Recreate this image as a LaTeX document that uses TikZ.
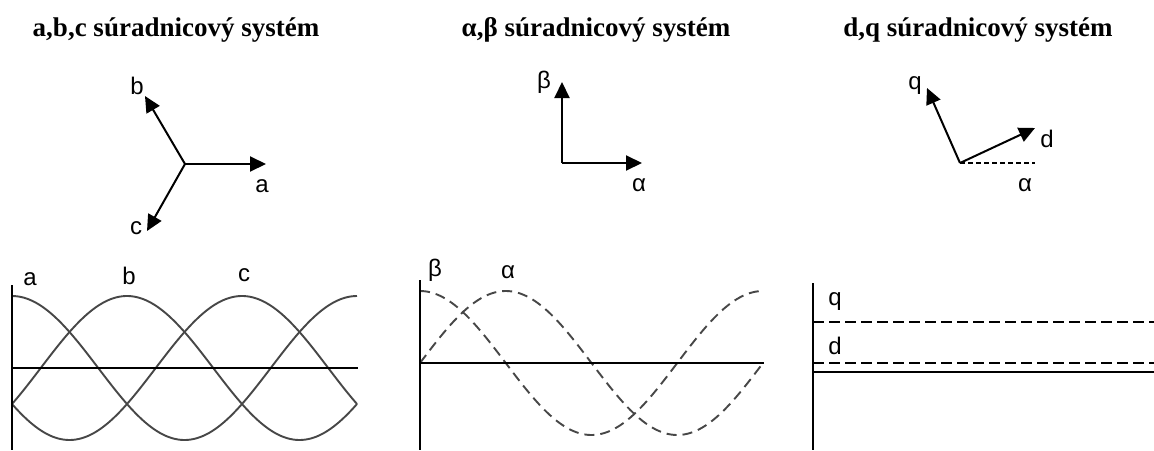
\documentclass[tikz,border=0pt]{standalone}
\usepackage{fontspec}
\setmainfont{Liberation Serif}
\setsansfont{Liberation Sans}
\usetikzlibrary{arrows.meta}
\tikzset{
  heading/.style={font=\fontsize{27}{30}\selectfont\bfseries, inner sep=0pt},
  lbl/.style={font=\sffamily\fontsize{24}{26}\selectfont, inner sep=0pt},
  vec/.style={line width=2pt, -{Triangle[length=16pt,width=15pt]}},
  axis/.style={line width=2.4pt},
  haxis/.style={line width=2pt},
  curve/.style={line width=1.9pt, draw=black!72},
  dcurve/.style={line width=1.9pt, draw=black!72, dash pattern=on 10pt off 6pt},
  dline/.style={line width=2.4pt, dash pattern=on 11pt off 5pt},
}
\begin{document}
\begin{tikzpicture}[x=1pt,y=-1pt]
\useasboundingbox[fill=white] (0,0) rectangle (1154,450);
% headings
\node[heading] (h1) at (176,30) {a,b,c súradnicový systém};
\node[heading] (h2) at (596,30) {α,β súradnicový systém};
\node[heading] (h3) at (978,30) {d,q súradnicový systém};
% abc vectors
\coordinate (o1) at (185,164);
\coordinate (ta) at (266,164);
\coordinate (tb) at (145,96);
\coordinate (tc) at (147,231);
\draw[vec] (o1) -- (ta);
\draw[vec] (o1) -- (tb);
\draw[vec] (o1) -- (tc);
\node[lbl] (la) at (262,186) {a};
\node[lbl] (lb) at (137,86) {b};
\node[lbl] (lc) at (136,228) {c};
% alpha beta vectors
\coordinate (o2) at (562,163);
\coordinate (tal) at (642,163);
\coordinate (tbe) at (562,82);
\draw[vec] (o2) -- (tal);
\draw[vec] (o2) -- (tbe);
\node[lbl] (lal) at (639,185) {α};
\node[lbl] (lbe) at (544,82) {β};
% dq vectors
\coordinate (o3) at (960,163);
\coordinate (tq) at (927,88);
\coordinate (td) at (1035,128);
\coordinate (te) at (1035,163);
\draw[line width=1.6pt, dash pattern=on 5pt off 3pt] (o3) -- (te);
\draw[vec] (o3) -- (tq);
\draw[vec] (o3) -- (td);
\node[lbl] (lq) at (915,86) {q};
\node[lbl] (ld) at (1047,139) {d};
\node[lbl] (lal2) at (1025,185) {α};
% abc plot
\coordinate (p1t) at (12,285);
\coordinate (p1b) at (12,450);
\coordinate (p1l) at (12,368);
\coordinate (p1r) at (358,368);
\draw[curve] plot[domain=12:357, samples=120] (\x, {368-72*cos(1.043478*(\x-12))});
\draw[curve] plot[domain=12:357, samples=120] (\x, {368-72*cos(1.043478*(\x-127))});
\draw[curve] plot[domain=12:357, samples=120] (\x, {368-72*cos(1.043478*(\x-242))});
\draw[axis] (p1t) -- (p1b);
\draw[haxis] (p1l) -- (p1r);
\node[lbl] (pa) at (30,279) {a};
\node[lbl] (pb) at (129,276) {b};
\node[lbl] (pc) at (244,275) {c};
% alpha beta plot
\coordinate (p2t) at (420,280);
\coordinate (p2b) at (420,450);
\coordinate (p2l) at (420,363);
\coordinate (p2r) at (764,363);
\draw[dcurve] plot[domain=420:763, samples=120] (\x, {363-72*cos(1.049563*(\x-420))});
\draw[dcurve] plot[domain=420:763, samples=120] (\x, {363-72*sin(1.049563*(\x-420))});
\draw[axis] (p2t) -- (p2b);
\draw[haxis] (p2l) -- (p2r);
\node[lbl] (pbe) at (435,270) {β};
\node[lbl] (pal) at (508,272) {α};
% dq plot
\coordinate (p3t) at (813,283);
\coordinate (p3b) at (813,450);
\coordinate (p3l) at (813,372);
\coordinate (p3r) at (1154,372);
\coordinate (q1) at (813,322);
\coordinate (q2) at (1154,322);
\coordinate (d1) at (813,363);
\coordinate (d2) at (1154,363);
\draw[dline] (q1) -- (q2);
\draw[dline] (d1) -- (d2);
\draw[haxis] (p3l) -- (p3r);
\draw[axis] (p3t) -- (p3b);
\node[lbl] (pq) at (835,302) {q};
\node[lbl] (pd) at (835,346) {d};
\end{tikzpicture}
\end{document}
